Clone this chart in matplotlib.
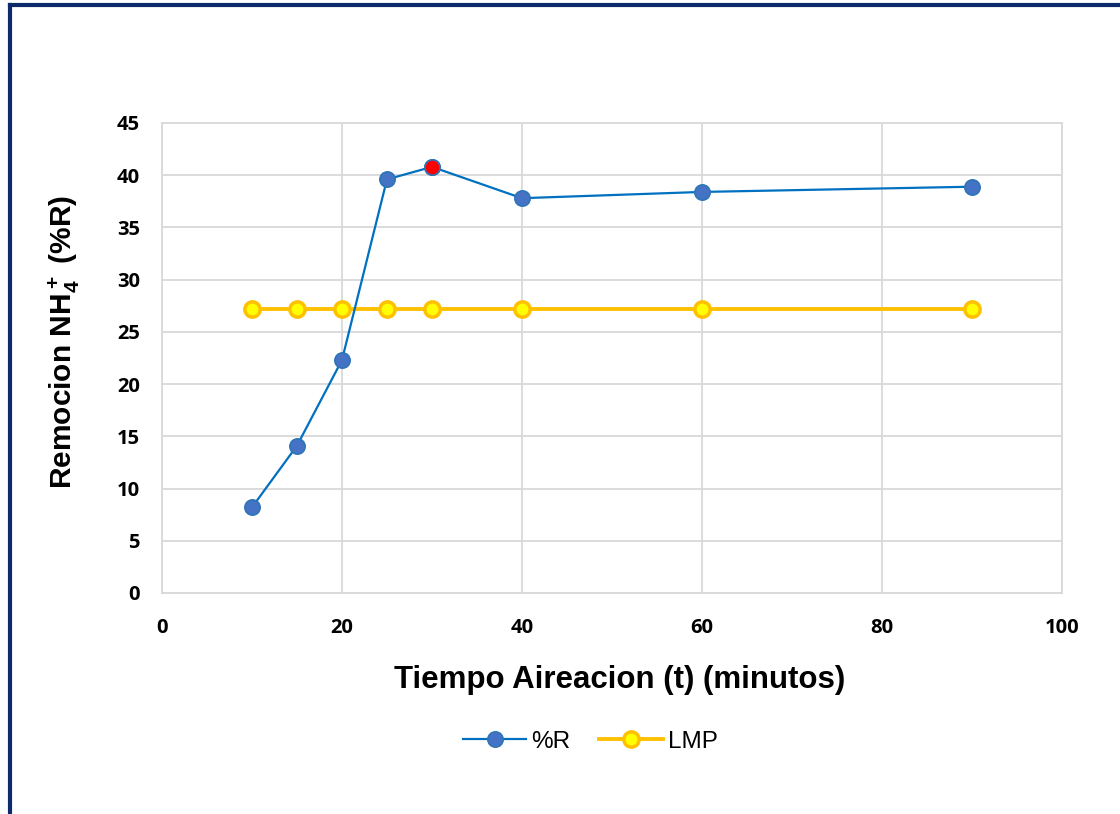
import matplotlib
matplotlib.use("Agg")
import matplotlib.pyplot as plt
from matplotlib.lines import Line2D

plt.rcParams["mathtext.fontset"] = "custom"
plt.rcParams["mathtext.bf"] = "Liberation Sans:bold"
plt.rcParams["mathtext.default"] = "bf"

# Tiempo de aireacion (min) y remocion de amonio (%)
tiempo = [10, 15, 20, 25, 30, 40, 60, 90]
remocion = [8.2, 14.1, 22.3, 39.6, 40.8, 37.8, 38.4, 38.9]
lmp = [27.2, 27.2, 27.2, 27.2, 27.2, 27.2, 27.2, 27.2]
punto_max = 4  # indice del maximo, marcado en rojo

x_ticks = [0, 20, 40, 60, 80, 100]
y_ticks = [0, 5, 10, 15, 20, 25, 30, 35, 40, 45]

fig = plt.figure(figsize=(11.2, 8.14), dpi=100)
ax = fig.add_axes([0.1446, 0.2715, 0.8036, 0.5774])

ax.plot(tiempo, lmp, color="#FFC000", lw=2.8, marker="o", ms=11,
        mfc="#FFFF00", mec="#FFC000", mew=2.5, zorder=3)
ax.plot(tiempo, remocion, color="#0070C0", lw=1.6, marker="o", ms=11,
        mfc="#4472C4", mec="#2E75B6", mew=1.2, zorder=4)
ax.plot(tiempo[punto_max], remocion[punto_max], marker="o", ms=11,
        mfc="#FF0000", mec="#2E75B6", mew=1.2, ls="none", zorder=5)

ax.set_xlim(0, 100)
ax.set_ylim(0, 45)
ax.set_xticks(x_ticks)
ax.set_yticks(y_ticks)
ax.grid(True, color="#D9D9D9", lw=1.3)
ax.set_axisbelow(True)
for s in ax.spines.values():
    s.set_color("#D9D9D9")
    s.set_linewidth(1.3)
ax.tick_params(axis="y", length=0, pad=16)
ax.tick_params(axis="x", length=0, pad=18)
for lab in ax.get_xticklabels() + ax.get_yticklabels():
    lab.set_fontweight("bold")
    lab.set_fontsize(14.5)
    lab.set_family("Open Sans")

ax.set_xlabel("Tiempo Aireacion (t) (minutos)", family="Liberation Sans",
              fontsize=22.5, fontweight="bold", va="center")
ax.xaxis.set_label_coords(0.509, -0.185)
ax.set_ylabel(r"Remocion NH$_4^+$ (%R)", family="Liberation Sans",
              fontsize=21.5, fontweight="bold", va="center")
ax.yaxis.set_label_coords(-0.108, 0.535)

handles = [
    Line2D([], [], color="#0070C0", lw=1.6, marker="o", ms=11,
           mfc="#4472C4", mec="#2E75B6", mew=1.2),
    Line2D([], [], color="#FFC000", lw=2.8, marker="o", ms=11,
           mfc="#FFFF00", mec="#FFC000", mew=2.5),
]
fig.legend(handles, ["%R", "LMP"], loc="center", bbox_to_anchor=(0.527, 0.089),
           ncol=2, frameon=False, prop={"family": "Liberation Sans", "size": 17.5},
           handlelength=2.6, handletextpad=0.2, columnspacing=1.2)

# marco del grafico
fig.add_artist(Line2D([0.0089, 0.0089], [0, 0.9935], color="#0D2A6B", lw=3,
                      transform=fig.transFigure))
fig.add_artist(Line2D([0.0089, 1.0], [0.9935, 0.9935], color="#0D2A6B", lw=3,
                      transform=fig.transFigure))

fig.savefig("out.png", dpi=100)
